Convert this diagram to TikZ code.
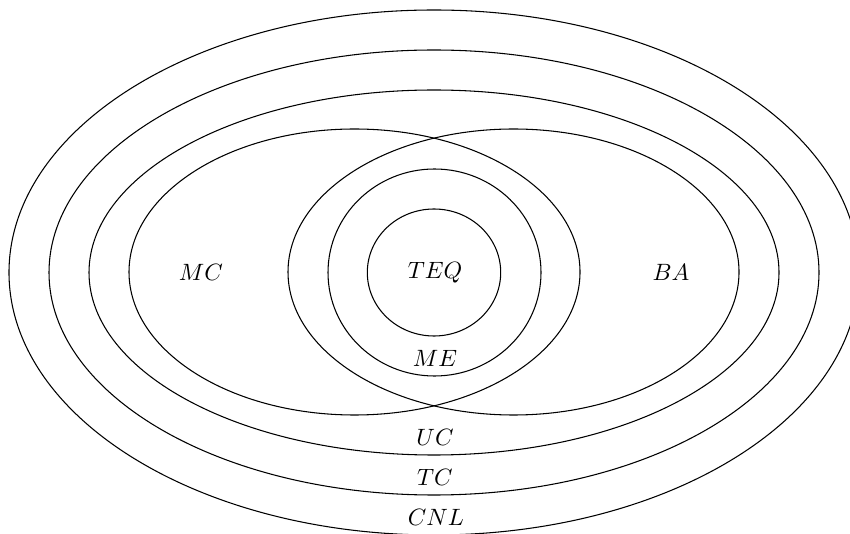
\documentclass[tikz,border=0pt]{standalone}
\begin{document}
\begin{tikzpicture}[x=0.4237pt, y=-0.4237pt,
  ring/.style={line width=0.45pt},
  lbl/.style={inner sep=0pt, text depth=0pt}]
  \useasboundingbox (0,0) rectangle (850,534);
  \begin{scope}
    \clip (0,0) rectangle (850,534);
    % nested outer classes
    \draw[ring] (434,272.5) ellipse [x radius=425, y radius=262.5];
    \draw[ring] (434,272.5) ellipse [x radius=385, y radius=222.5];
    \draw[ring] (434,272.5) ellipse [x radius=345, y radius=182.5];
    % two overlapping classes
    \draw[ring] (354.5,272) ellipse [x radius=225.5, y radius=143];
    \draw[ring] (513.5,272) ellipse [x radius=225.5, y radius=143];
    % inner classes in the overlap
    \draw[ring] (434.5,272.5) ellipse [x radius=106.5, y radius=103.5];
    \draw[ring] (434,272.5) ellipse [x radius=66.7, y radius=63.5];
  \end{scope}
  \node[lbl] (mc)  at (201,272.5) {$MC$};
  \node[lbl] (ba)  at (671,272.5) {$BA$};
  \node[lbl] (teq) at (435,270)   {$TEQ$};
  \node[lbl] (me)  at (435,358)   {$ME$};
  \node[lbl] (uc)  at (435,437)   {$UC$};
  \node[lbl] (tc)  at (435,477)   {$TC$};
  \node[lbl] (cnl) at (436,517.5) {$CNL$};
\end{tikzpicture}
\end{document}
